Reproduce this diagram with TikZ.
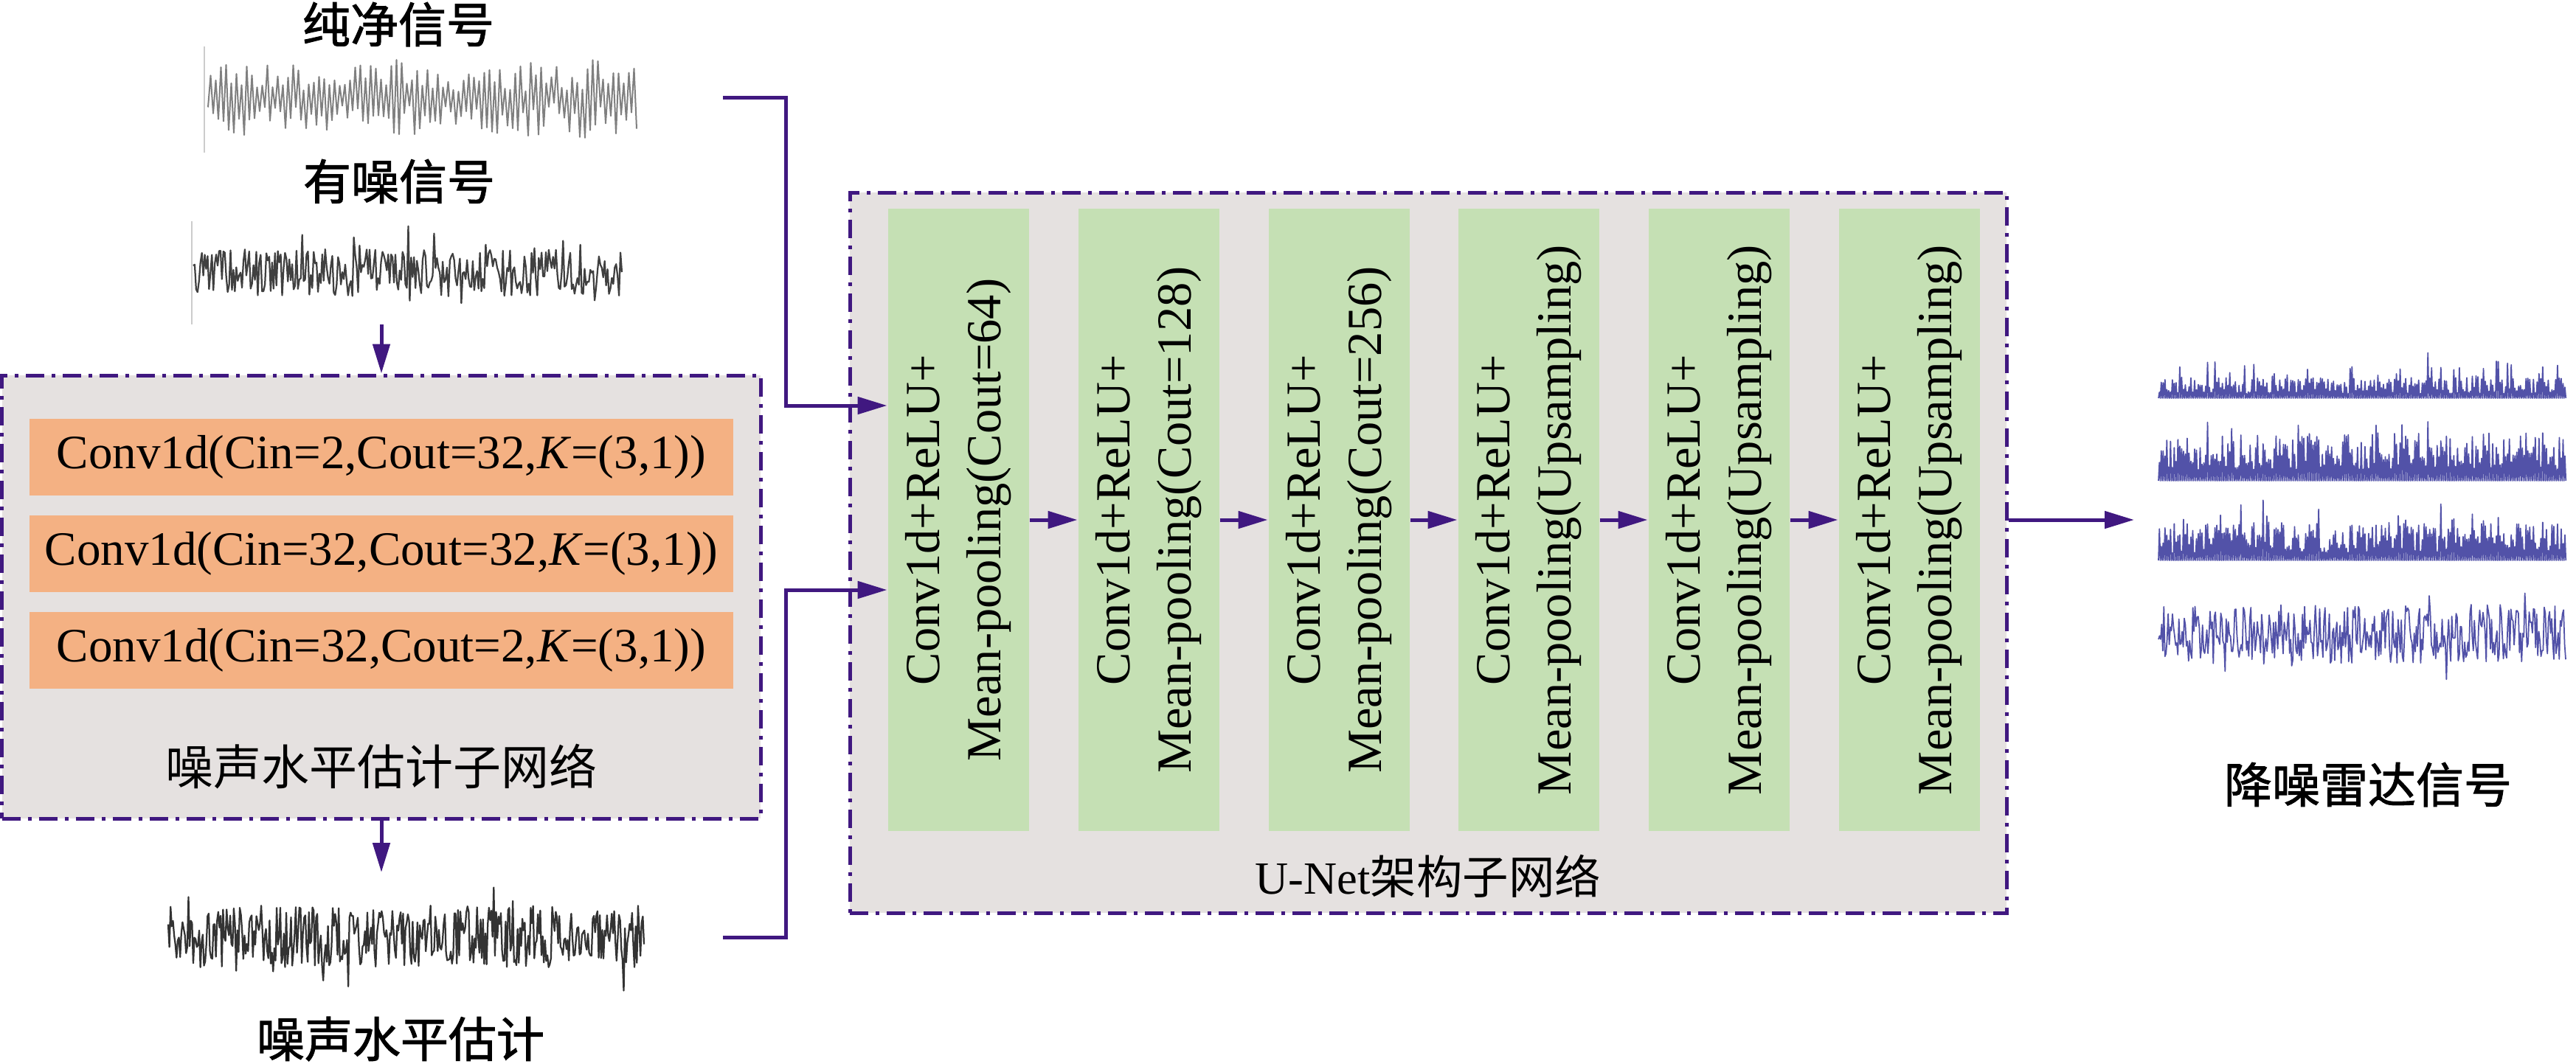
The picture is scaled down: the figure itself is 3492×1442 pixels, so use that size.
\documentclass[tikz,border=0pt]{standalone}
\usepackage{fontspec}
\setmainfont{Liberation Serif}
\newfontfamily\cjk{Noto Sans CJK SC}
\newfontfamily\cjkh[FakeBold=1.5]{Noto Sans CJK SC}
\usetikzlibrary{arrows.meta,calc}
\definecolor{purp}{RGB}{64,24,128}
\definecolor{boxgray}{RGB}{229,225,224}
\definecolor{orng}{RGB}{244,177,131}
\definecolor{grn}{RGB}{197,224,180}
\definecolor{wblue}{RGB}{82,82,168}
\begin{document}
\begin{tikzpicture}[x=0.2pt,y=-0.2pt,
  subnet/.style={draw=purp, fill=boxgray, line width=1pt, dash pattern=on 5pt off 2pt on 1pt off 2pt},
  conv/.style={fill=orng, minimum width=190.8pt, minimum height=20.8pt, inner sep=0pt, font=\fontsize{13}{15}\selectfont},
  blk/.style={fill=grn, minimum width=38.2pt, minimum height=168.8pt, inner sep=0pt},
  gtxt/.style={rotate=90, align=center, inner sep=0pt, font=\fontsize{13.3}{16.6}\selectfont},
  arr/.style={draw=purp, line width=1pt, -{Triangle[length=8pt,width=4.6pt]}},
  lbl/.style={font=\cjk\fontsize{13}{15}\selectfont, inner sep=0pt},
  head/.style={font=\cjkh\fontsize{13}{15}\selectfont, inner sep=0pt},
  sig/.style={line width=0.45pt, line join=round},
  bsig/.style={wblue, line width=0.35pt, line join=round}]
\useasboundingbox (0,0) rectangle (3492,1442);

% ---------- labels of the left column and the output
\node[head] (lclean) at (540,33) {纯净信号};
\node[head] (lnoisy) at (541,246) {有噪信号};
\node[head] (lest) at (543,1409) {噪声水平估计};
\node[head] (lout) at (3210,1064) {降噪雷达信号};

% ---------- waveforms
\draw[gray!40, line width=0.4pt] (277,63) -- (277,207);
\pgfmathsetseed{7}
\draw[sig, black!50, line width=0.4pt] plot[variable=\i, samples=167, domain=0:166]
  ({282+3.5*\i}, {132 + (1-2*mod(round(\i),2))*(10+40*rnd) + 6*rand});

\draw[gray!40, line width=0.4pt] (260,300) -- (260,440);
\pgfmathsetseed{11}
\draw[sig, black!75] plot[variable=\t, samples=300, domain=262:843]
  (\t, {370 + 32*rand + ifthenelse(rnd>0.9, 35*rand, 0)});

\pgfmathsetseed{23}
\draw[sig, black!80] plot[variable=\t, samples=400, domain=228:873]
  (\t, {1270 + 42*rand + ifthenelse(rnd>0.88, 40*rand, 0)});

\pgfmathsetseed{31}
\draw[bsig] plot[variable=\i, samples=441, domain=0:440]
  ({2926+1.255*\i}, {540 - mod(round(\i),2)*(6+22*rnd + ifthenelse(rnd>0.8, 35*rnd, 0))});
\draw[bsig] plot[variable=\i, samples=441, domain=0:440]
  ({2926+1.255*\i}, {652 - mod(round(\i),2)*(15+50*rnd + ifthenelse(rnd>0.8, 25*rnd, 0))});
\draw[bsig] plot[variable=\i, samples=441, domain=0:440]
  ({2926+1.255*\i}, {760 - mod(round(\i),2)*(10+42*rnd + ifthenelse(rnd>0.82, 35*rnd, 0))});
\draw[bsig] plot[variable=\t, samples=380, domain=2926:3478]
  (\t, {860 + 40*rand + ifthenelse(rnd>0.88, 36*rand, 0)});

% ---------- noise level estimation subnetwork
\node[subnet, minimum width=205.6pt, minimum height=120.2pt] (est) at (517,809.5) {};
\node[conv] (c1) at (517,620) {Conv1d(Cin=2,Cout=32,\textit{K}=(3,1))};
\node[conv] (c2) at (517,751) {Conv1d(Cin=32,Cout=32,\textit{K}=(3,1))};
\node[conv] (c3) at (517,882) {Conv1d(Cin=32,Cout=2,\textit{K}=(3,1))};
\node[lbl] (lestnet) at (517,1040) {噪声水平估计子网络};

% ---------- U-Net subnetwork
\node[subnet, minimum width=313.6pt, minimum height=195.4pt] (unet) at (1936,749.5) {};
\node[blk] (g1) at (1299,705) {};
\node[blk] (g2) at (1557,705) {};
\node[blk] (g3) at (1815,705) {};
\node[blk] (g4) at (2072,705) {};
\node[blk] (g5) at (2330,705) {};
\node[blk] (g6) at (2588,705) {};
\node[gtxt] (t1) at (g1.center) {Conv1d+ReLU+\\Mean-pooling(Cout=64)};
\node[gtxt] (t2) at (g2.center) {Conv1d+ReLU+\\Mean-pooling(Cout=128)};
\node[gtxt] (t3) at (g3.center) {Conv1d+ReLU+\\Mean-pooling(Cout=256)};
\node[gtxt] (t4) at (g4.center) {Conv1d+ReLU+\\Mean-pooling(Upsampling)};
\node[gtxt] (t5) at (g5.center) {Conv1d+ReLU+\\Mean-pooling(Upsampling)};
\node[gtxt] (t6) at (g6.center) {Conv1d+ReLU+\\Mean-pooling(Upsampling)};
\node[font=\fontsize{12.5}{15}\selectfont, inner sep=0pt] (lunet) at (1936,1188) {U-Net{\cjk 架构子网络}};

% ---------- connectors
\coordinate (nz) at (517,440);
\coordinate (ez) at (517,1183);
\coordinate (cs) at (980,132);
\coordinate (cj) at (1065,132);
\coordinate (es) at (980,1271);
\coordinate (ej) at (1065,1271);
\coordinate (out) at (2893,705);

\draw[arr] (nz) -- (est.north);
\draw[arr] (est.south) -- (ez);
\draw[arr] (cs) -- (cj) |- ($(g1.west)+(0,-155)$);
\draw[arr] (es) -- (ej) |- ($(g1.west)+(0,95)$);
\draw[arr] (g1) -- (g2);
\draw[arr] (g2) -- (g3);
\draw[arr] (g3) -- (g4);
\draw[arr] (g4) -- (g5);
\draw[arr] (g5) -- (g6);
\draw[arr] (g6.center -| unet.east) -- (out);
\end{tikzpicture}
\end{document}
